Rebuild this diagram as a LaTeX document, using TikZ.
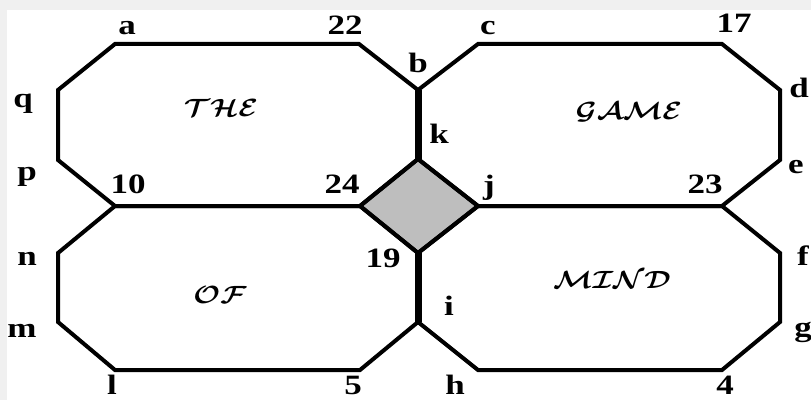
\documentclass[tikz,border=0pt]{standalone}
\usepackage{fontspec}
\setmainfont{Liberation Serif}
\definecolor{framegray}{RGB}{240,240,240}
\definecolor{diamondgray}{RGB}{190,190,190}
\newcommand{\wide}[1]{\scalebox{1.25}[1]{#1}}
\newcommand{\calword}[1]{\scalebox{1.15}[1]{\boldmath$\mathcal{#1}$}}
\tikzset{
  edge/.style={line width=4pt, line join=miter},
  bar/.style={line width=7pt},
  lbl/.style={font=\fontsize{28}{28}\selectfont\bfseries, inner sep=0pt, anchor=base},
  word/.style={font=\fontsize{38}{38}\selectfont, inner sep=0pt}
}
\begin{document}
\begin{tikzpicture}[x=1pt,y=1pt]
\useasboundingbox (0,0) rectangle (811,400);
\fill[framegray] (0,0) rectangle (811,400);
\fill[white] (7,0) rectangle (811,390);

% vertices
\coordinate (a) at (115,356);  \coordinate (v22) at (359,356);
\coordinate (b) at (418,310);  \coordinate (k) at (418,241);
\coordinate (v24) at (360,194); \coordinate (v10) at (115,194);
\coordinate (p) at (58,240);   \coordinate (q) at (58,310);
\coordinate (c) at (478,356);  \coordinate (v17) at (722,356);
\coordinate (d) at (780,310);  \coordinate (e) at (780,240);
\coordinate (v23) at (722,194); \coordinate (j) at (478,194);
\coordinate (n) at (58,147);   \coordinate (m) at (58,78);
\coordinate (l) at (115,30);   \coordinate (v5) at (360,30);
\coordinate (i) at (418,78);   \coordinate (v19) at (418,147);
\coordinate (h) at (478,30);   \coordinate (v4) at (722,30);
\coordinate (g) at (780,78);   \coordinate (f) at (780,147);

% centre diamond
\fill[diamondgray] (k) -- (j) -- (v19) -- (v24) -- cycle;

% the four octagons
\draw[edge] (a) -- (v22) -- (b) -- (k) -- (v24) -- (v10) -- (p) -- (q) -- cycle;
\draw[edge] (c) -- (v17) -- (d) -- (e) -- (v23) -- (j) -- (k) -- (b) -- cycle;
\draw[edge] (v10) -- (v24) -- (v19) -- (i) -- (v5) -- (l) -- (m) -- (n) -- cycle;
\draw[edge] (j) -- (v23) -- (f) -- (g) -- (v4) -- (h) -- (i) -- (v19) -- cycle;
\draw[edge] (k) -- (j) -- (v19) -- (v24) -- cycle;
\draw[bar] (b) -- (k);
\draw[bar] (v19) -- (i);

% words
\node[word] (the) at (221,292) {\calword{THE}};
\node[word] (game) at (629,288) {\calword{GAME}};
\node[word] (of) at (220,105) {\calword{OF}};
\node[word] (mind) at (612,120) {\calword{MIND}};

% labels
\node[lbl] (la) at (127,365) {\wide{a}};
\node[lbl] (l22) at (345,365) {\wide{22}};
\node[lbl] (lb) at (418,328) {\wide{b}};
\node[lbl] (lc) at (488,365) {\wide{c}};
\node[lbl] (l17) at (734,367) {\wide{17}};
\node[lbl] (lq) at (23,293) {\wide{q}};
\node[lbl] (ld) at (799,303) {\wide{d}};
\node[lbl] (lp) at (27,220) {\wide{p}};
\node[lbl] (le) at (796,227) {\wide{e}};
\node[lbl] (l10) at (128,207) {\wide{10}};
\node[lbl] (l24) at (342,207) {\wide{24}};
\node[lbl] (lk) at (439,257) {\wide{k}};
\node[lbl] (lj) at (489,206) {\wide{j}};
\node[lbl] (l23) at (705,207) {\wide{23}};
\node[lbl] (ln) at (27,135) {\wide{n}};
\node[lbl] (l19) at (383,133) {\wide{19}};
\node[lbl] (lf) at (803,135) {\wide{f}};
\node[lbl] (li) at (449,85) {\wide{i}};
\node[lbl] (lm) at (22,63) {\wide{m}};
\node[lbl] (lg) at (803,64) {\wide{g}};
\node[lbl] (ll) at (112,6) {\wide{l}};
\node[lbl] (l5) at (353,6) {\wide{5}};
\node[lbl] (lh) at (455,6) {\wide{h}};
\node[lbl] (l4) at (725,6) {\wide{4}};
\end{tikzpicture}
\end{document}
